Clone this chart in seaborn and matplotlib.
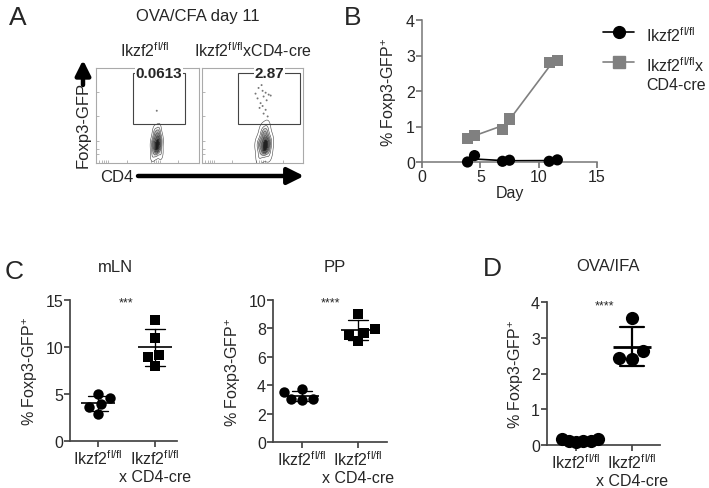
import matplotlib
matplotlib.use("Agg")
import matplotlib.pyplot as plt
import numpy as np
import pandas as pd
import seaborn as sns
from matplotlib.lines import Line2D
from matplotlib.patches import Rectangle, FancyArrowPatch

W, H = 709, 489

WT = "Ikzf2$^{\\mathregular{fl/fl}}$"
KO = "Ikzf2$^{\\mathregular{fl/fl}}$\nx CD4-cre"
GROUPS = [WT, KO]
YLAB = "% Foxp3-GFP$^{\\mathregular{+}}$"
GRAY = "#808080"

# ---- Panel A: flow plots (axes units 0-1) ----
a_titles = [WT, "Ikzf2$^{\\mathregular{fl/fl}}$xCD4-cre"]
a_freq = ["0.0613", "2.87"]
a_gate_x = [(0.36, 0.86), (0.36, 0.97)]
a_gate_y = (0.41, 0.95)
a_wt_x = [0.55, 0.63, 0.59, 0.56, 0.62, 0.59, 0.60, 0.57, 0.61, 0.59, 0.57, 0.61, 0.63, 0.55, 0.58, 0.60]
a_wt_y = [0.08, 0.10, 0.14, 0.17, 0.18, 0.20, 0.22, 0.24, 0.27, 0.30, 0.33, 0.35, 0.24, 0.21, 0.12, 0.16]
a_wt_gate_x = [0.59]
a_wt_gate_y = [0.55]
a_ko_x = [0.57, 0.66, 0.62, 0.58, 0.66, 0.62, 0.63, 0.59, 0.65, 0.62, 0.60, 0.64, 0.67, 0.56, 0.61, 0.63]
a_ko_y = [0.07, 0.10, 0.14, 0.17, 0.18, 0.20, 0.22, 0.24, 0.27, 0.30, 0.33, 0.36, 0.22, 0.20, 0.12, 0.16]
a_ko_gate_x = [0.60, 0.63, 0.56, 0.66, 0.61, 0.55, 0.64, 0.58, 0.68, 0.60, 0.63, 0.57, 0.61, 0.65, 0.59, 0.53]
a_ko_gate_y = [0.76, 0.74, 0.79, 0.72, 0.70, 0.68, 0.66, 0.63, 0.71, 0.60, 0.56, 0.58, 0.52, 0.49, 0.82, 0.73]
flow_xticks = [0.03, 0.06, 0.08, 0.10, 0.12, 0.30, 0.53, 0.56, 0.58, 0.60, 0.62, 0.80]
flow_yticks = [0.10, 0.15, 0.23, 0.50, 0.75]

# ---- Panel B: time course ----
b_day = [3.9, 4.5, 6.9, 7.5, 10.9, 11.6]
b_group = [4, 4, 7, 7, 11, 11]
b_wt = [0.0, 0.18, 0.02, 0.05, 0.02, 0.06]
b_ko = [0.67, 0.74, 0.91, 1.21, 2.80, 2.87]
b_legend = [WT, "Ikzf2$^{\\mathregular{fl/fl}}$x\nCD4-cre"]

# ---- Panel C / D: dot plots ----
mln_wt = [5.0, 4.6, 3.95, 3.6, 2.9]
mln_ko = [12.9, 11.0, 9.1, 8.9, 8.0]
pp_wt = [3.7, 3.55, 3.0, 2.95, 3.05]
pp_ko = [9.0, 7.95, 7.7, 7.55, 7.1]
ifa_wt = [0.16, 0.08, 0.11, 0.12, 0.18, 0.10]
ifa_ko = [3.55, 2.62, 2.44, 2.41]


def rect(l, t, r, b):
    return [l / W, 1 - b / H, (r - l) / W, (b - t) / H]


def ftext(x, y, s, **kw):
    fig.text(x / W, 1 - y / H, s, ha=kw.pop("ha", "center"), va=kw.pop("va", "center"), **kw)


sns.set_theme(style="ticks")
plt.rcParams["font.family"] = ["Liberation Sans", "DejaVu Sans"]
plt.rcParams["mathtext.fontset"] = "custom"
plt.rcParams["mathtext.rm"] = "Liberation Sans"
plt.rcParams["font.size"] = 11

fig = plt.figure(figsize=(W / 100, H / 100), dpi=100)

# ---------------- A ----------------
flow = [
    (a_wt_x, a_wt_y, a_wt_gate_x, a_wt_gate_y, rect(96, 69, 199, 164)),
    (a_ko_x, a_ko_y, a_ko_gate_x, a_ko_gate_y, rect(202, 69, 303, 164)),
]
for i, (ex, ey, gx, gy, pos) in enumerate(flow):
    ax = fig.add_axes(pos)
    sns.kdeplot(x=ex, y=ey, ax=ax, fill=True, cmap="Greys", levels=7, thresh=0.2,
                bw_adjust=1.0)
    sns.kdeplot(x=ex, y=ey, ax=ax, color="#444444", levels=7, thresh=0.03 if i else 0.07,
                linewidths=0.4, bw_adjust=1.0)
    sns.scatterplot(x=gx, y=gy, ax=ax, s=2, color="#777777", edgecolor="none")
    x0, x1 = a_gate_x[i]
    y0, y1 = a_gate_y
    ax.add_patch(Rectangle((x0, y0), x1 - x0, y1 - y0, fill=False, lw=0.8, ec="#444444"))
    ax.text((x0 + x1) / 2, y1, a_freq[i], ha="center", va="center", fontsize=11,
            fontweight="bold", bbox=dict(fc="white", ec="none", pad=0.5))
    ax.set_xlim(0, 1)
    ax.set_ylim(0, 1)
    ax.set_xticks(flow_xticks)
    ax.set_yticks(flow_yticks)
    ax.tick_params(length=2, width=0.5, color="#999999", direction="in",
                   labelbottom=False, labelleft=False)
    ax.set_xlabel("")
    ax.set_ylabel("")
    for sp in ax.spines.values():
        sp.set_color("#aaaaaa")
        sp.set_linewidth(0.8)

ftext(18, 18, "A", fontsize=19)
ftext(198, 16, "OVA/CFA day 11", fontsize=12)
ftext(145, 51, a_titles[0], fontsize=11.5)
ftext(253, 51, a_titles[1], fontsize=11.5)
ftext(83, 125, "Foxp3-GFP", rotation=90, fontsize=12)
ftext(117, 177, "CD4", fontsize=12)
arrow_style = "-|>,head_length=0.9,head_width=0.45"
fig.add_artist(FancyArrowPatch((138 / W, 1 - 177 / H), (304 / W, 1 - 177 / H),
                               transform=fig.transFigure, arrowstyle=arrow_style, lw=3.2,
                               color="black", mutation_scale=11, shrinkA=0, shrinkB=0))
fig.add_artist(FancyArrowPatch((83 / W, 1 - 86 / H), (83 / W, 1 - 61 / H),
                               transform=fig.transFigure, arrowstyle=arrow_style, lw=3.2,
                               color="black", mutation_scale=10, shrinkA=0, shrinkB=0))

# ---------------- B ----------------
axB = fig.add_axes(rect(422, 21, 597, 163))
dfB = pd.DataFrame({
    "day": b_day * 2,
    "grp": b_group * 2,
    "pct": b_wt + b_ko,
    "geno": ["wt"] * len(b_wt) + ["ko"] * len(b_ko),
})
means = dfB.groupby(["geno", "grp"], as_index=False)[["day", "pct"]].mean()
palB = {"wt": "black", "ko": GRAY}
sns.lineplot(data=means, x="day", y="pct", hue="geno", palette=palB, ax=axB,
             legend=False, linewidth=1.2, sort=True)
sns.scatterplot(data=dfB, x="day", y="pct", hue="geno", style="geno",
                markers={"wt": "o", "ko": "s"}, palette=palB, s=65,
                edgecolor="none", ax=axB, legend=False, zorder=3)
for c in axB.collections:
    c.set_clip_on(False)
axB.set_xlim(0, 15)
axB.set_ylim(0, 4)
axB.set_xticks([0, 5, 10, 15])
axB.set_yticks([0, 1, 2, 3, 4])
axB.set_xlabel("Day", fontsize=11.5, labelpad=1)
axB.set_ylabel(YLAB, fontsize=11.5, labelpad=5)
sns.despine(ax=axB)
for sp in axB.spines.values():
    sp.set_color("#777777")
    sp.set_linewidth(1.1)
axB.tick_params(length=4, color="#777777", labelsize=11.5, pad=1)
ftext(353, 18, "B", fontsize=19)

# legend drawn by hand so the square sits on the first text line
for (color, marker, y), label in zip([("black", "o", 33), (GRAY, "s", 63)], b_legend):
    fy = 1 - y / H
    fig.add_artist(Line2D([603 / W, 634 / W], [fy, fy], transform=fig.transFigure,
                          color=color, lw=1.2))
    fig.add_artist(Line2D([619 / W], [fy], transform=fig.transFigure, color=color,
                          marker=marker, markersize=8.5, lw=0))
    ftext(646, y - 6.5, label, ha="left", va="top", fontsize=11.5, linespacing=1.25)


# ---------------- C / D ----------------
swarm_axes = []


def dot_panel(pos, wt, ko, ymax, yticks, ko_marker, msize, swarm_sizes, mean_len, cap, lw,
              xlim, stars, stars_y):
    ax = fig.add_axes(pos)
    df = pd.DataFrame({"geno": [WT] * len(wt) + [KO] * len(ko), "pct": wt + ko})
    sns.swarmplot(data=df[df.geno == WT], x="geno", y="pct", order=GROUPS, marker="o",
                  size=swarm_sizes[0], color="black", ax=ax)
    sns.swarmplot(data=df[df.geno == KO], x="geno", y="pct", order=GROUPS, marker=ko_marker,
                  size=swarm_sizes[1], color="black", ax=ax)
    swarm_axes.append((ax, list(ax.collections), msize))
    sns.pointplot(data=df, x="geno", y="pct", order=GROUPS, errorbar="sd", capsize=cap,
                  color="black", marker="_", markersize=mean_len, markeredgewidth=lw,
                  linestyle="none", err_kws={"linewidth": lw * 0.8}, ax=ax, zorder=5)
    ax.set_xlim(*xlim)
    ax.set_ylim(0, ymax)
    ax.set_yticks(yticks)
    ax.set_xlabel("")
    ax.set_ylabel(YLAB, fontsize=11.5)
    sns.despine(ax=ax)
    for sp in ax.spines.values():
        sp.set_color("#444444")
    ax.tick_params(length=4, color="#444444", labelsize=11.5, pad=1)
    ax.text(0.5, stars_y, stars, ha="center", va="center", fontsize=9)
    return ax


dot_panel(rect(70, 301, 177, 442), mln_wt, mln_ko, 15, [0, 5, 10, 15], "s", 7.5, (7.5, 7.5),
          24, 0.35, 1.2, (-0.49, 1.39), "***", 14.7)
dot_panel(rect(273, 301, 387, 443), pp_wt, pp_ko, 10, [0, 2, 4, 6, 8, 10], "s", 7.5,
          (7.5, 7.5), 24, 0.35, 1.2, (-0.52, 1.52), "****", 9.85)
dot_panel(rect(547, 303, 660, 446), ifa_wt, ifa_ko, 4, [0, 1, 2, 3, 4], "o", 9.5, (5, 9),
          28, 0.42, 2.0, (-0.52, 1.5), "****", 3.9)

ftext(14, 272, "C", fontsize=19)
ftext(115, 268, "mLN", fontsize=12)
ftext(335, 268, "PP", fontsize=12)
ftext(492, 269, "D", fontsize=19)
ftext(608, 267, "OVA/IFA", fontsize=12)

# lay out the swarms once, then freeze them and enlarge the dots so they may overlap
fig.canvas.draw()
for ax, colls, msize in swarm_axes:
    for c in colls:
        c.__dict__.pop("draw", None)
        c.set_sizes([msize ** 2])
        c.set_clip_on(False)

fig.savefig("out.png", dpi=100)
